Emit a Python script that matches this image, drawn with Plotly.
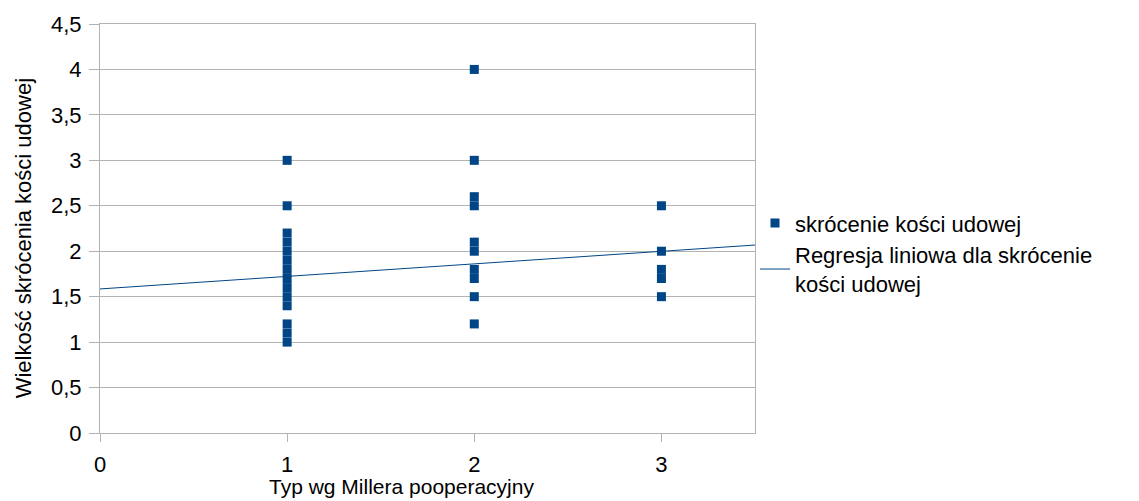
import plotly.graph_objects as go

# Shortening measurements grouped by post-operative Miller type
type_1 = [3.0, 2.5, 2.2, 2.1, 2.0, 1.9, 1.8, 1.7, 1.6, 1.5, 1.4, 1.2, 1.1, 1.0]
type_2 = [4.0, 3.0, 2.6, 2.5, 2.1, 2.0, 1.8, 1.7, 1.5, 1.2]
type_3 = [2.5, 2.0, 1.8, 1.7, 1.5]

# Linear trend (intercept, slope) and the span it is drawn over
trend_intercept = 1.585
trend_slope = 0.138
trend_x = [0.0, 3.5]

x_ticks = [0, 1, 2, 3]

series_name = "skrócenie kości udowej"
trend_name = "Regresja liniowa dla skrócenie<br>kości udowej"
x_title = "Typ wg Millera pooperacyjny"
y_title = "Wielkość skrócenia kości udowej"

xs = [1] * len(type_1) + [2] * len(type_2) + [3] * len(type_3)
ys = type_1 + type_2 + type_3

BLUE = "#004586"
GRID = "#b3b3b3"
FONT = "Liberation Sans, Arial, sans-serif"

fig = go.Figure()
fig.add_trace(go.Scatter(
    x=xs, y=ys, mode="markers", name=series_name,
    marker=dict(symbol="square", size=9, color=BLUE, line=dict(width=0)),
))
fig.add_trace(go.Scatter(
    x=trend_x, y=[trend_intercept + trend_slope * v for v in trend_x],
    mode="lines", name=trend_name,
    line=dict(color=BLUE, width=1),
))

fig.update_layout(
    width=1139, height=501,
    margin=dict(l=100, r=384, t=17, b=68),
    paper_bgcolor="white", plot_bgcolor="white",
    separators=", ",
    font=dict(family=FONT, color="black", size=22),
    showlegend=True,
    legend=dict(
        x=1.0, y=0.564, xanchor="left", yanchor="top",
        font=dict(size=22, family=FONT), tracegroupgap=0,
        itemwidth=30, bgcolor="rgba(0,0,0,0)",
    ),
    xaxis=dict(
        range=[0, 3.5], tickvals=x_ticks, showgrid=False,
        showline=True, linecolor=GRID, linewidth=1, mirror=True,
        ticks="outside", ticklen=8, tickcolor=GRID,
        tickfont=dict(size=22), zeroline=False, ticklabelstandoff=4,
    ),
    yaxis=dict(
        range=[0, 4.5], dtick=0.5, showgrid=True, gridcolor=GRID, gridwidth=1,
        showline=True, linecolor=GRID, linewidth=1, mirror=True,
        ticks="outside", ticklen=10, tickcolor=GRID,
        tickfont=dict(size=22), zeroline=False, ticklabelstandoff=3,
    ),
    annotations=[
        dict(text=x_title, xref="paper", yref="paper", x=0.461, y=-0.1635,
             xanchor="center", yanchor="bottom", showarrow=False,
             font=dict(size=21, family=FONT, color="black")),
        dict(text=y_title, xref="paper", yref="paper", x=-0.1176, y=0.476,
             xanchor="center", yanchor="middle", showarrow=False, textangle=-90,
             font=dict(size=22, family=FONT, color="black")),
    ],
)

fig.write_html("out.html")
